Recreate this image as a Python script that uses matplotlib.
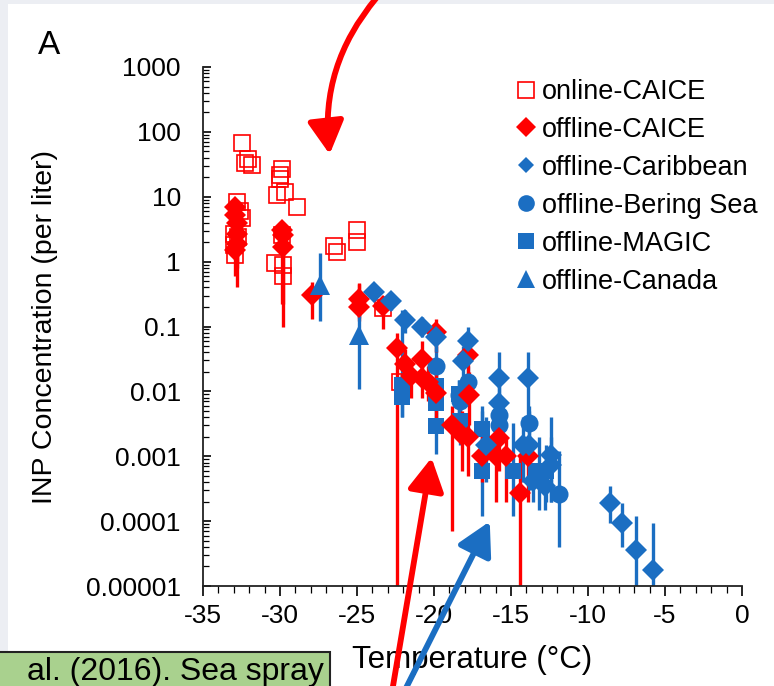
import numpy as np
import matplotlib
matplotlib.use("Agg")
import matplotlib.pyplot as plt
from matplotlib.lines import Line2D
from matplotlib.patches import Rectangle, FancyArrowPatch, ArrowStyle
from matplotlib.ticker import LogLocator, NullFormatter, MultipleLocator

plt.rcParams['font.family'] = ['Liberation Sans', 'DejaVu Sans']
plt.rcParams['axes.unicode_minus'] = False

RED = '#ff0000'
BLUE = '#1b6ec2'

# ---- data: temperature (degC), INP conc (per liter), error low / high ----
online_t = [-32.5, -32.1, -31.8, -32.3, -29.9, -30.0, -30.0, -30.2, -29.7, -28.9,
            -32.8, -32.5, -33.0, -32.7, -32.9, -33.0, -30.3, -29.8, -29.8, -29.9,
            -26.5, -26.3, -25.0, -25.0, -23.3, -22.2, -32.6]
online_c = [68, 38, 31, 33, 27, 22, 18.6, 10.7, 12, 7,
            8.4, 4.7, 2.7, 2.4, 1.26, 1.8, 0.95, 0.9, 0.59, 2.6,
            1.74, 1.4, 3.1, 2.0, 0.19, 0.014, 6.0]

caice_t = [-32.9, -32.9, -32.8, -32.8, -32.8, -32.9, -29.9, -29.8, -29.8, -27.9,
           -24.9, -24.9, -23.3, -22.4, -21.9, -20.8, -21.5, -20.8, -20.4, -19.9,
           -19.9, -17.8, -17.7, -18.8, -18.2, -17.8, -16.9, -16.0, -15.8, -15.3,
           -13.9, -14.4]
caice_c = [7.0, 5.2, 3.9, 2.7, 1.9, 1.5, 3.1, 2.6, 1.7, 0.31,
           0.27, 0.2, 0.21, 0.047, 0.026, 0.032, 0.017, 0.016, 0.014, 0.0093,
           0.083, 0.036, 0.0089, 0.003, 0.0021, 0.002, 0.001, 0.001, 0.0019, 0.001,
           0.001, 0.00027]
caice_lo = [3, 1.5, 0.4, 1, 0.8, 0.6, 0.22, 0.1, 0.22, 0.13,
            0.135, 0.12, 0.09, 1e-5, 0.012, 0.015, 0.008, 0.008, 0.007, 0.003,
            0.04, 0.015, 0.003, 7e-5, 0.0006, 0.0005, 0.0004, 0.0002, 0.0006, 0.0002,
            0.0002, 1e-5]
caice_hi = [9, 7, 6, 4, 3, 2.5, 3.6, 3.4, 3, 0.48,
            0.47, 0.45, 0.3, 0.08, 0.045, 0.06, 0.03, 0.03, 0.025, 0.02,
            0.13, 0.07, 0.02, 0.006, 0.005, 0.004, 0.003, 0.004, 0.004, 0.002,
            0.002, 0.001]

carib_t = [-23.9, -22.8, -21.9, -20.8, -19.9, -17.8, -18.1, -15.8, -13.9, -15.8,
           -16.6, -14.2, -13.8, -12.4, -12.4, -13.6, -12.8, -8.6, -7.8, -6.9, -5.8]
carib_c = [0.34, 0.25, 0.126, 0.1, 0.07, 0.059, 0.029, 0.016, 0.016, 0.0066,
           0.0015, 0.0015, 0.0015, 0.00105, 0.00074, 0.00041, 0.00035, 0.00019, 0.000095,
           0.000036, 0.0000178]
carib_lo = [0.25, 0.18, 0.08, 0.07, 0.04, 0.03, 0.015, 0.004, 0.004, 0.002,
            0.0004, 0.0004, 0.0003, 0.0002, 0.0002, 0.0002, 0.00015, 0.000095, 0.00004,
            1e-5, 1e-5]
carib_hi = [0.45, 0.33, 0.18, 0.14, 0.1, 0.1, 0.05, 0.04, 0.04, 0.012,
            0.004, 0.004, 0.005, 0.004, 0.002, 0.0008, 0.0007, 0.00035, 0.00019,
            0.00012, 0.000095]

bering_t = [-19.9, -18.4, -18.3, -17.8, -15.8, -15.8, -13.8, -11.9]
bering_c = [0.025, 0.0089, 0.007, 0.014, 0.0044, 0.003, 0.0032, 0.00026]
bering_lo = [0.012, 0.004, 0.003, 0.007, 0.002, 0.0015, 0.0015, 0.00004]
bering_hi = [0.05, 0.015, 0.013, 0.025, 0.009, 0.006, 0.006, 0.0012]

magic_t = [-22.1, -22.1, -19.9, -19.9, -19.9, -18.4, -18.3, -16.9, -16.9, -14.9, -13.2, -12.7]
magic_c = [0.0126, 0.0083, 0.012, 0.0066, 0.0029, 0.009, 0.0035, 0.0026, 0.0006, 0.0006, 0.0006, 0.0006]
magic_lo = [0.004, 0.004, 0.006, 0.003, 0.0011, 0.004, 0.0015, 0.0006, 0.00012, 0.00012, 0.00015, 0.0002]
magic_hi = [0.18, 0.013, 0.02, 0.012, 0.0055, 0.015, 0.006, 0.005, 0.006, 0.0032, 0.002, 0.0015]

canada_t = [-27.4, -24.9]
canada_c = [0.44, 0.074]
canada_lo = [0.12, 0.011]
canada_hi = [1.35, 0.2]

legend_labels = ['online-CAICE', 'offline-CAICE', 'offline-Caribbean',
                 'offline-Bering Sea', 'offline-MAGIC', 'offline-Canada']

W, H = 774, 686
fig = plt.figure(figsize=(W / 100, H / 100), dpi=100)
fig.patch.set_facecolor('#eceef3')


def fx(x):
    return x / W


def fy(y):
    return 1 - y / H


# white slide panel (behind the axes)
fig.patches.append(Rectangle((fx(8), 0), 1, fy(4), transform=fig.transFigure,
                             facecolor='white', edgecolor='none', zorder=-5))

ax = fig.add_axes([fx(203), fy(586), fx(742) - fx(203), fy(67) - fy(586)])
ax.set_facecolor('none')


def errs(c, lo, hi):
    c = np.array(c)
    return [c - np.array(lo), np.array(hi) - c]


ekw = dict(linestyle='none', elinewidth=2.4, capsize=0, mew=0)
ax.errorbar(magic_t, magic_c, yerr=errs(magic_c, magic_lo, magic_hi), marker='s', ms=12,
            color=BLUE, ecolor=BLUE, **ekw)
ax.errorbar(bering_t, bering_c, yerr=errs(bering_c, bering_lo, bering_hi), marker='o', ms=13,
            color=BLUE, ecolor=BLUE, **ekw)
ax.errorbar(caice_t, caice_c, yerr=errs(caice_c, caice_lo, caice_hi), marker='D', ms=11.5,
            color=RED, ecolor=RED, **ekw)
ax.errorbar(carib_t, carib_c, yerr=errs(carib_c, carib_lo, carib_hi), marker='D', ms=11.5,
            color=BLUE, ecolor=BLUE, **ekw)
ax.errorbar(canada_t, canada_c, yerr=errs(canada_c, canada_lo, canada_hi), marker='^', ms=15,
            color=BLUE, ecolor=BLUE, **ekw)
ax.plot(online_t, online_c, linestyle='none', marker='s', ms=12, mfc='none', mec=RED, mew=1.2)

ax.set_yscale('log')
ax.set_ylim(1e-5, 1000)
ax.set_xlim(-35, 0)

ydec = [1e-5, 1e-4, 1e-3, 1e-2, 1e-1, 1, 10, 100, 1000]
ylabs = ['0.00001', '0.0001', '0.001', '0.01', '0.1', '1', '10', '100', '1000']
ax.set_yticks(ydec)
ax.set_yticklabels(ylabs)
ax.yaxis.set_minor_locator(LogLocator(base=10, subs=np.arange(2, 10)))
ax.yaxis.set_minor_formatter(NullFormatter())
ax.tick_params(axis='y', which='major', direction='in', length=6, width=1.2, pad=16, labelsize=19)
ax.tick_params(axis='y', which='minor', direction='in', length=4, width=0.9)

ax.xaxis.set_major_locator(MultipleLocator(5))
ax.xaxis.set_minor_locator(MultipleLocator(1))
ax.tick_params(axis='x', which='major', direction='out', length=7, width=1.2, pad=6, labelsize=19)
ax.tick_params(axis='x', which='minor', direction='out', length=5, width=0.9)

for s in ['top', 'right']:
    ax.spines[s].set_visible(False)
for s in ['left', 'bottom']:
    ax.spines[s].set_linewidth(1.3)
    ax.spines[s].set_color('#222222')

ax.set_xlabel('Temperature (°C)', fontsize=22.5, labelpad=12)
ax.set_ylabel('INP Concentration (per liter)', fontsize=20.5, labelpad=20)
fig.text(fx(38), fy(45), 'A', fontsize=24, va='center', ha='left')

handles = [
    Line2D([], [], ls='none', marker='s', ms=11, mfc='none', mec=RED, mew=1.2),
    Line2D([], [], ls='none', marker='D', ms=10, color=RED, mew=0),
    Line2D([], [], ls='none', marker='D', ms=8.5, color=BLUE, mew=0),
    Line2D([], [], ls='none', marker='o', ms=12, color=BLUE, mew=0),
    Line2D([], [], ls='none', marker='s', ms=11, color=BLUE, mew=0),
    Line2D([], [], ls='none', marker='^', ms=13, color=BLUE, mew=0),
]
ax.legend(handles, legend_labels, loc='upper left', bbox_to_anchor=(fx(517), fy(79)),
          bbox_transform=fig.transFigure, frameon=False, fontsize=19.5,
          handlelength=0.7, handletextpad=0.22, labelspacing=0.44,
          borderpad=0, borderaxespad=0)

# slide decorations: green citation box and arrows
fig.patches.append(Rectangle((fx(-5), fy(700)), fx(335), fy(652) - fy(700),
                             transform=fig.transFigure, facecolor='#a9d18e',
                             edgecolor='#222222', lw=1.5, zorder=3))
fig.text(fx(324), fy(680), 'al. (2016). Sea spray', fontsize=23, ha='right',
         va='baseline', zorder=4)

arrows = [
    ((378, -4), (330, 157), 'arc3,rad=0.22', RED),
    ((392, 692), (432, 455), 'arc3,rad=0', RED),
    ((404, 692), (491, 519), 'arc3,rad=0', BLUE),
]
for a, b, cs, col in arrows:
    fig.patches.append(FancyArrowPatch(
        (fx(a[0]), fy(a[1])), (fx(b[0]), fy(b[1])), transform=fig.transFigure,
        connectionstyle=cs, arrowstyle=ArrowStyle('-|>', head_length=1.0, head_width=0.55),
        mutation_scale=20, color=col, lw=4.2, zorder=5))

fig.savefig('out.png', dpi=100, facecolor=fig.get_facecolor())
